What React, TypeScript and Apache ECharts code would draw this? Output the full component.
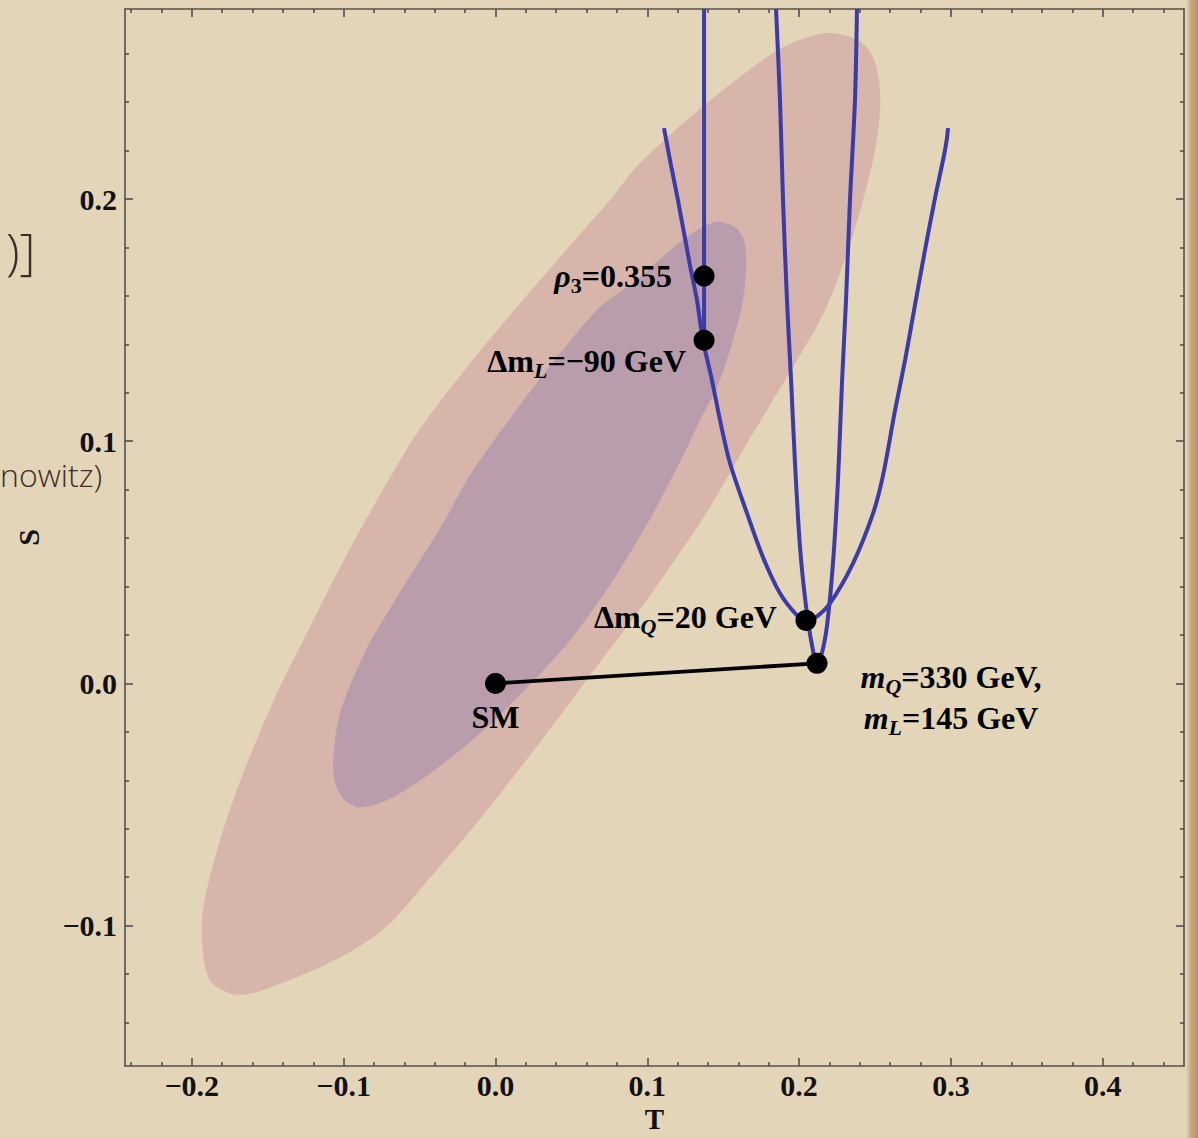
import React, { useEffect, useRef } from "react";
import * as echarts from "echarts";

// ---------- axes ----------
const xRange = [-0.244, 0.4535];
const yRange = [-0.158, 0.2785];
const xMajorTicks = [-0.2, -0.1, 0.0, 0.1, 0.2, 0.3, 0.4];
const xMinorTicks = [-0.24, -0.22, -0.18, -0.16, -0.14, -0.12, -0.08, -0.06, -0.04, -0.02, 0.02, 0.04, 0.06, 0.08, 0.12, 0.14, 0.16, 0.18, 0.22, 0.24, 0.26, 0.28, 0.32, 0.34, 0.36, 0.38, 0.42, 0.44];
const yMajorTicks = [-0.1, 0.0, 0.1, 0.2];
const yMinorTicks = [-0.14, -0.12, -0.08, -0.06, -0.04, -0.02, 0.02, 0.04, 0.06, 0.08, 0.12, 0.14, 0.16, 0.18, 0.22, 0.24, 0.26];
const xAxisName = "T";
const yAxisName = "S";

// ---------- outer (pink) allowed region contour ----------
const outerT = [0.2204, 0.2388, 0.248, 0.2526, 0.2533, 0.25, 0.2421, 0.2322, 0.2171, 0.2006, 0.1808, 0.1611, 0.138, 0.1097, 0.0932, 0.0721, 0.0451, 0.0175, -0.0109, -0.0418, -0.0741, -0.109, -0.1499, -0.165, -0.1762, -0.1881, -0.1927, -0.1927, -0.1828, -0.1683, -0.1439, -0.1242, -0.1024, -0.0781, -0.0517, -0.0188, 0.0181, 0.0524, 0.0754, 0.0952, 0.1393, 0.1828, 0.2039];
const outerS = [0.2686, 0.2657, 0.2595, 0.2492, 0.2368, 0.2202, 0.1996, 0.1789, 0.1541, 0.1355, 0.1149, 0.0942, 0.0694, 0.0434, 0.0289, 0.0116, -0.0112, -0.0339, -0.0566, -0.0793, -0.1017, -0.1153, -0.126, -0.1285, -0.1277, -0.1227, -0.1107, -0.0938, -0.0678, -0.0405, -0.0041, 0.0207, 0.0479, 0.0756, 0.1033, 0.1306, 0.1583, 0.1831, 0.1996, 0.2149, 0.2397, 0.2603, 0.2665];

// ---------- inner (purple) allowed region contour ----------
const innerT = [0.1446, 0.1578, 0.1637, 0.165, 0.163, 0.1565, 0.1459, 0.1347, 0.1262, 0.1038, 0.0774, 0.0491, 0.0208, -0.0102, -0.0431, -0.0715, -0.0893, -0.0991, -0.1051, -0.107, -0.1024, -0.086, -0.0662, -0.0497, -0.0333, -0.0168, 0.0161, 0.0471, 0.0688, 0.0906, 0.1235];
const innerS = [0.1905, 0.1884, 0.1831, 0.1719, 0.1583, 0.1417, 0.1223, 0.1087, 0.0975, 0.0702, 0.0426, 0.0178, -0.0017, -0.0207, -0.0372, -0.0483, -0.0512, -0.0483, -0.0421, -0.0331, -0.0124, 0.0128, 0.0343, 0.0508, 0.0674, 0.086, 0.1149, 0.1397, 0.1554, 0.1653, 0.1831];

// ---------- blue trajectories ----------
// wide curve (varying Δm_Q / Δm_L)
const wideT = [0.111, 0.1156, 0.1202, 0.1281, 0.1327, 0.1367, 0.1426, 0.1479, 0.1545, 0.1657, 0.1762, 0.1874, 0.1986, 0.2045, 0.2118, 0.2204, 0.2355, 0.2487, 0.2553, 0.2632, 0.2698, 0.2763, 0.2829, 0.2895, 0.2961, 0.2981];
const wideS = [0.2293, 0.214, 0.1996, 0.1727, 0.1583, 0.1417, 0.1252, 0.1087, 0.0909, 0.0702, 0.0521, 0.0372, 0.0281, 0.026, 0.0277, 0.0331, 0.0496, 0.0702, 0.086, 0.1128, 0.1335, 0.1562, 0.1789, 0.2004, 0.2202, 0.2293];
// narrow curve through the m_Q point
const narrowT = [0.1848, 0.1874, 0.1894, 0.192, 0.1947, 0.1973, 0.2006, 0.2045, 0.2085, 0.2118, 0.2151, 0.2184, 0.2223, 0.2256, 0.2283, 0.2309, 0.2335, 0.2368, 0.2381];
const narrowS = [0.2785, 0.2409, 0.1996, 0.1583, 0.1252, 0.0909, 0.0562, 0.0322, 0.0157, 0.0083, 0.0128, 0.024, 0.0496, 0.0839, 0.1252, 0.1583, 0.1996, 0.2409, 0.2785];
// vertical ρ3 line
const rhoT = [0.1374, 0.1374];
const rhoS = [0.2785, 0.1417];

// ---------- SM -> model point ----------
const shiftT = [0.0, 0.2118];
const shiftS = [0.0, 0.0083];

// ---------- marked points ----------
const pointNames = ["rho3", "dmL", "dmQ", "mQmL", "SM"];
const pointT = [0.1374, 0.1374, 0.2045, 0.2118, 0.0];
const pointS = [0.1682, 0.1417, 0.026, 0.0083, 0.0];
const pointLabels = [
  "{i|ρ}{sub|3}{b|=0.355}",
  "{b|Δm}{subi|L}{b|=−90 GeV}",
  "{b|Δm}{subi|Q}{b|=20 GeV}",
  "{i|m}{subi|Q}{b|=330 GeV,}\n{i|m}{subi|L}{b|=145 GeV}",
  "{b|SM}",
];

const SERIF = "'Liberation Serif', 'Times New Roman', serif";
const BLUE = "#3b3ba9";

const labelPlacement: any[] = [
  { align: "right", offset: [-32, 0] },
  { align: "right", offset: [-18, 21] },
  { align: "right", offset: [-29, -3] },
  { align: "center", offset: [134, 34] },
  { align: "center", offset: [0, 34] },
];

function fmt(v: number) {
  const r = Math.round(v * 10) / 10;
  if (r === 0) return "0.0";
  return r < 0 ? "\u2212" + (-r).toFixed(1) : r.toFixed(1);
}

function polygonSeries(ts: number[], ss: number[], fill: string, z: number) {
  return {
    type: "custom",
    silent: true,
    data: [[ts[0], ss[0]]],
    renderItem: (_p: any, api: any) => ({
      type: "polygon",
      shape: { points: ts.map((t, i) => api.coord([t, ss[i]])), smooth: 0.3 },
      style: { fill },
    }),
    z,
  };
}

function curve(ts: number[], ss: number[], color: string, width: number, smooth: number | boolean, z = 3) {
  return {
    type: "line",
    data: ts.map((t, i) => [t, ss[i]]),
    showSymbol: false,
    smooth,
    lineStyle: { color, width, opacity: 1 },
    z,
    silent: true,
  };
}

const axisLineStyle = { color: "#505050", width: 1.6 };
const tickFont = { color: "#111", fontFamily: SERIF, fontWeight: "bold", fontSize: 30 };

function xAxes() {
  const base = { type: "value", min: xRange[0], max: xRange[1], splitLine: { show: false } };
  return [
    {
      ...base,
      position: "bottom",
      axisLine: { show: true, onZero: false, lineStyle: axisLineStyle },
      axisTick: { show: true, inside: true, length: 8, customValues: xMajorTicks, lineStyle: axisLineStyle },
      axisLabel: { show: true, customValues: xMajorTicks, formatter: fmt, margin: 4, ...tickFont },
      name: xAxisName,
      nameLocation: "middle",
      nameGap: 38,
      nameTextStyle: { ...tickFont, fontSize: 29 },
    },
    {
      ...base,
      position: "bottom",
      axisLine: { show: false, onZero: false },
      axisTick: { show: true, inside: true, length: 4, customValues: xMinorTicks, lineStyle: axisLineStyle },
      axisLabel: { show: false },
    },
    {
      ...base,
      position: "top",
      axisLine: { show: true, onZero: false, lineStyle: axisLineStyle },
      axisTick: { show: true, inside: true, length: 8, customValues: xMajorTicks, lineStyle: axisLineStyle },
      axisLabel: { show: false },
    },
    {
      ...base,
      position: "top",
      axisLine: { show: false, onZero: false },
      axisTick: { show: true, inside: true, length: 4, customValues: xMinorTicks, lineStyle: axisLineStyle },
      axisLabel: { show: false },
    },
  ];
}

function yAxes() {
  const base = { type: "value", min: yRange[0], max: yRange[1], splitLine: { show: false } };
  return [
    {
      ...base,
      position: "left",
      axisLine: { show: true, onZero: false, lineStyle: axisLineStyle },
      axisTick: { show: true, inside: true, length: 8, customValues: yMajorTicks, lineStyle: axisLineStyle },
      axisLabel: { show: true, customValues: yMajorTicks, formatter: fmt, margin: 8, ...tickFont },
      name: yAxisName,
      nameLocation: "middle",
      nameRotate: 90,
      nameGap: 82,
      nameTextStyle: { ...tickFont },
    },
    {
      ...base,
      position: "left",
      axisLine: { show: false, onZero: false },
      axisTick: { show: true, inside: true, length: 4, customValues: yMinorTicks, lineStyle: axisLineStyle },
      axisLabel: { show: false },
    },
    {
      ...base,
      position: "right",
      axisLine: { show: true, onZero: false, lineStyle: axisLineStyle },
      axisTick: { show: true, inside: true, length: 8, customValues: yMajorTicks, lineStyle: axisLineStyle },
      axisLabel: { show: false },
    },
    {
      ...base,
      position: "right",
      axisLine: { show: false, onZero: false },
      axisTick: { show: true, inside: true, length: 4, customValues: yMinorTicks, lineStyle: axisLineStyle },
      axisLabel: { show: false },
    },
  ];
}

const rich = {
  b: { fontFamily: SERIF, fontWeight: "bold", fontSize: 32, lineHeight: 41, color: "#000" },
  i: { fontFamily: SERIF, fontWeight: "bold", fontStyle: "italic", fontSize: 32, lineHeight: 41, color: "#000" },
  sub: { fontFamily: SERIF, fontWeight: "bold", fontSize: 22, lineHeight: 20, verticalAlign: "bottom", color: "#000" },
  subi: { fontFamily: SERIF, fontWeight: "bold", fontStyle: "italic", fontSize: 22, lineHeight: 20, verticalAlign: "bottom", color: "#000" },
};

export default function App() {
  const ref = useRef<HTMLDivElement>(null);

  useEffect(() => {
    if (!ref.current) return;
    const chart = echarts.init(ref.current, null, { renderer: "svg" });
    const option: any = {
      animation: false,
      backgroundColor: "#e3d5b7",
      grid: { left: 125, right: 14, top: 9, bottom: 72, containLabel: false, outerBoundsMode: "none" },
      xAxis: xAxes(),
      yAxis: yAxes(),
      graphic: [
        {
          type: "rect",
          left: 1186,
          top: 0,
          shape: { width: 12, height: 1138 },
          style: {
            fill: new echarts.graphic.LinearGradient(0, 0, 1, 0, [
              { offset: 0, color: "rgba(190,150,100,0.0)" },
              { offset: 0.4, color: "rgba(190,150,100,0.7)" },
              { offset: 1, color: "rgba(170,125,80,0.8)" },
            ]),
          },
          silent: true,
          z: -1,
        },
        {
          type: "text",
          left: 6,
          top: 226,
          style: { text: ")]", fontFamily: "'Open Sans', sans-serif", fontWeight: 300, fontSize: 50, fill: "#3d2e25" },
          silent: true,
        },
        {
          type: "text",
          left: 0,
          top: 458,
          style: { text: "nowitz)", fontFamily: "'Open Sans', sans-serif", fontWeight: 300, fontSize: 32, fill: "#3d2e25" },
          silent: true,
        },
      ],
      series: [
        polygonSeries(outerT, outerS, "#d7b5aa", 1),
        polygonSeries(innerT, innerS, "#b99dac", 2),
        curve(wideT, wideS, BLUE, 4, 0.3),
        curve(narrowT, narrowS, BLUE, 4, 0.3),
        curve(rhoT, rhoS, BLUE, 4, false),
        curve(shiftT, shiftS, "#000", 3.8, false, 4),
        {
          type: "scatter",
          symbol: "circle",
          symbolSize: 21,
          itemStyle: { color: "#000", opacity: 1 },
          z: 5,
          silent: true,
          data: pointNames.map((n, i) => ({
            name: n,
            value: [pointT[i], pointS[i]],
            label: {
              show: true,
              position: "inside",
              verticalAlign: "middle",
              ...labelPlacement[i],
            },
          })),
          label: {
            show: true,
            formatter: (p: any) => pointLabels[p.dataIndex],
            color: "#000",
            opacity: 1,
            textBorderWidth: 0,
            rich,
          },
        },
      ],
    };
    chart.setOption(option);
    return () => chart.dispose();
  }, []);

  return (
    <div
      ref={ref}
      style={{ position: "absolute", left: 0, top: 0, width: 1198, height: 1138, background: "#e3d5b7" }}
    />
  );
}
